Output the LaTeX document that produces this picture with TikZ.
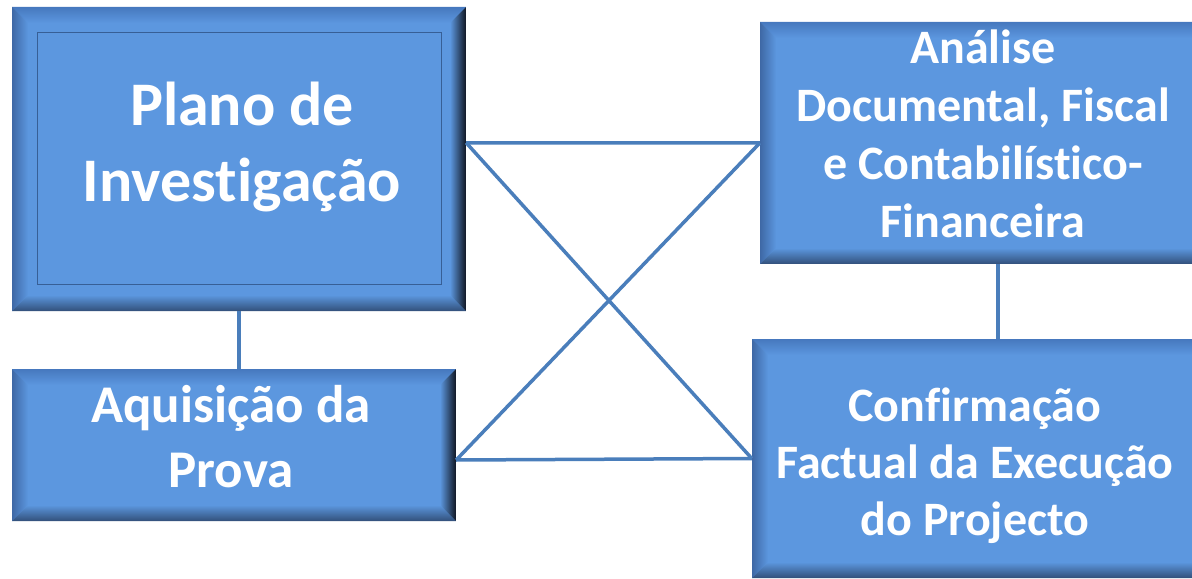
\documentclass[tikz,border=0pt]{standalone}
\usepackage{fontspec}
\setmainfont{Carlito}[Ligatures=NoCommon]
\usetikzlibrary{fit,calc}
\definecolor{base}{RGB}{92,151,223}
\definecolor{bvtop}{RGB}{70,120,190}
\definecolor{bvlight}{RGB}{148,204,255}
\definecolor{bvleft}{RGB}{62,104,165}
\definecolor{bvbottom}{RGB}{50,80,122}
\definecolor{bvright}{RGB}{16,22,34}
\definecolor{conn}{RGB}{74,126,187}
\definecolor{frameline}{RGB}{55,95,150}
\newcommand\bv{16bp}
\tikzset{
  box/.style={draw=none, fill=base, inner sep=0pt, bevel},
  bevel/.style={path picture={
    \path (path picture bounding box.north west) coordinate (@nw)
          (path picture bounding box.north east) coordinate (@ne)
          (path picture bounding box.south west) coordinate (@sw)
          (path picture bounding box.south east) coordinate (@se);
    \shade[top color=bvtop, middle color=bvlight, bottom color=base]
      (@nw) -- (@ne) -- ([xshift=-\bv,yshift=-\bv]@ne) -- ([xshift=\bv,yshift=-\bv]@nw) -- cycle;
    \shade[left color=bvleft, right color=base]
      (@nw) -- ([xshift=\bv,yshift=-\bv]@nw) -- ([xshift=\bv,yshift=\bv]@sw) -- (@sw) -- cycle;
    \shade[top color=base, bottom color=bvbottom]
      (@sw) -- ([xshift=\bv,yshift=\bv]@sw) -- ([xshift=-\bv,yshift=\bv]@se) -- (@se) -- cycle;
    \shade[left color=base, right color=bvright]
      (@ne) -- (@se) -- ([xshift=-\bv,yshift=\bv]@se) -- ([xshift=-\bv,yshift=-\bv]@ne) -- cycle;
  }},
  lbl/.style={text=white, align=center, inner sep=0pt, font=\bfseries},
  link/.style={draw=conn, line width=3.5bp}
}
\begin{document}
\begin{tikzpicture}[x=1bp,y=-1bp]
\useasboundingbox (0,0) rectangle (1192,579);
\clip (0,0) rectangle (1192,579);
% boxes
\node[box, fit={(12,7) (466,311)}] (plano) {};
\node[draw=frameline, line width=1bp, fill=base, inner sep=0pt, fit={(37,33) (441,285)}] (planoin) {};
\node[box, fit={(12,369) (456,521)}] (aq) {};
\node[box, fit={(760,22) (1236,264)}] (analise) {};
\node[box, fit={(752,339) (1244,578)}] (confirm) {};
% texts
\node[lbl, font=\bfseries\fontsize{62bp}{76bp}\selectfont] (planotxt) at (242,147) {Plano de\\Investigação};
\node[lbl, font=\bfseries\fontsize{53bp}{65bp}\selectfont] (aqtxt) at (231,437) {Aquisição da\\Prova};
\node[lbl, font=\bfseries\fontsize{48bp}{58bp}\selectfont] (antxt) at (983,134) {Análise\\Documental, Fiscal\\e Contabilístico-\\Financeira};
\node[lbl, font=\bfseries\fontsize{48bp}{57bp}\selectfont] (cftxt) at (975,466) {Confirmação\\Factual da Execução\\do Projecto};
% connectors
\coordinate (pr) at ([yshift=-136bp]plano.north east);
\coordinate (qa) at ([yshift=-15bp]aq.east);
\draw[link] (plano.south) -- (plano.south |- aq.north);
\draw[link] (analise.south -| 998,0) -- (confirm.north -| 998,0);
\draw[link] (pr) -- (analise.west);
\draw[link] (pr) -- (confirm.west);
\draw[link] (qa) -- (analise.west);
\draw[link] (qa) -- (confirm.west);
\end{tikzpicture}
\end{document}
